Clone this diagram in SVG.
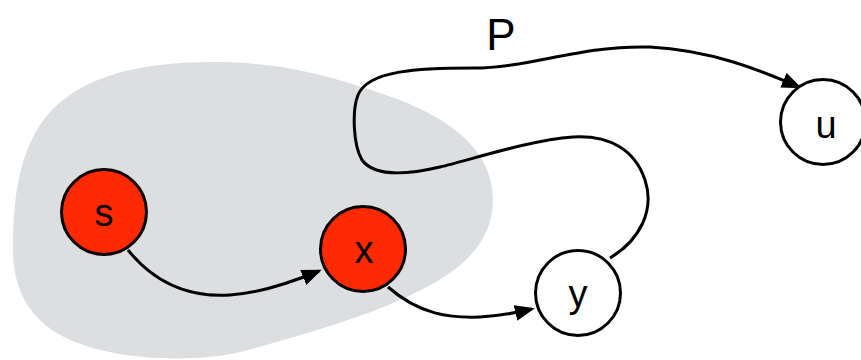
<svg xmlns="http://www.w3.org/2000/svg" width="861" height="360" viewBox="0 0 861 360">
<style>
.node{stroke:#000;stroke-width:3}
.red{fill:#ff2a00}
.white{fill:#fff}
.lbl{font-family:"Liberation Sans",Arial,sans-serif;font-size:38px;fill:#000;text-anchor:middle}
.edge{fill:none;stroke:#000;stroke-width:3}
</style>
<defs>
<marker id="arr" markerUnits="userSpaceOnUse" markerWidth="21" markerHeight="16" refX="17" refY="8" orient="auto">
<path d="M0,0 L20,8 L0,16 Z" fill="#000"/>
</marker>
</defs>
<path id="region" d="M213,62 C280,62 330,75 400,100 C450,120 493,150 493,200 C493,250 450,278 400,300 C360,318 300,336 240,352 C200,362 120,362 70,340 C30,322 13,290 13,250 C13,200 18,160 40,125 C70,80 130,62 213,62 Z" fill="#dddee0"/>
<g id="connectors">
<path class="edge" d="M128,250 C160,290 200,297 230,295 C260,293 290,283 319,271" marker-end="url(#arr)"/>
<path class="edge" d="M388,287 C420,315 450,318 480,317 C500,316 515,313 532,309" marker-end="url(#arr)"/>
<path class="edge" d="M610,258 C640,240 655,210 645,180 C635,150 610,135 573,137 C530,140 470,160 440,167 C410,174 375,178 362,160 C353,145 352,110 358,95 C368,70 420,68 473,68 C530,68 580,45 650,47 C710,50 760,70 799,87" marker-end="url(#arr)"/>
</g>
<text id="label-P" class="lbl" x="501" y="50" style="font-size:44px">P</text>
<g id="node-s">
<circle class="node red" cx="104" cy="212" r="42.5"/>
<text class="lbl" x="104" y="226">s</text>
</g>
<g id="node-x">
<circle class="node red" cx="363" cy="249" r="42.5"/>
<text class="lbl" x="364" y="263">x</text>
</g>
<g id="node-y">
<circle class="node white" cx="578" cy="293" r="42.5"/>
<text class="lbl" x="578" y="307">y</text>
</g>
<g id="node-u">
<circle class="node white" cx="823" cy="122" r="42.5"/>
<text class="lbl" x="826" y="138">u</text>
</g>
</svg>
